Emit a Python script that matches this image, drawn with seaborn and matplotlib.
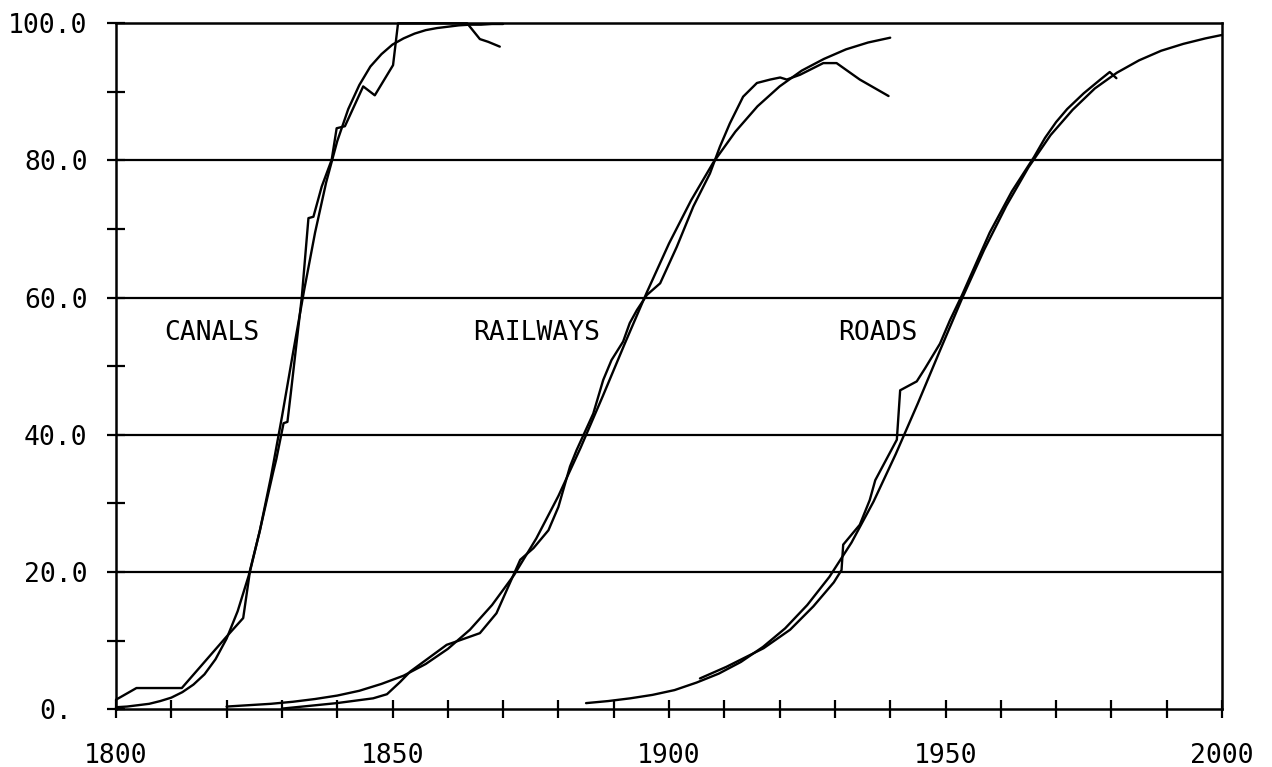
import matplotlib
matplotlib.use("Agg")
import matplotlib.pyplot as plt
from matplotlib.ticker import FixedLocator, MultipleLocator
import pandas as pd
import seaborn as sns

# --- Canals: logistic fit and observed share of maximum length (%) ---
canal_fit_year = [1800, 1802, 1804, 1806, 1808, 1810, 1812, 1814, 1816, 1818,
                  1820, 1822, 1824, 1826, 1828, 1830, 1832, 1834, 1836, 1838,
                  1840, 1842, 1844, 1846, 1848, 1850, 1852, 1854, 1856, 1858,
                  1860, 1862, 1864, 1866, 1868, 1870]
canal_fit_pct = [0.3, 0.4, 0.6, 0.8, 1.2, 1.7, 2.5, 3.6, 5.1, 7.3,
                 10.3, 14.3, 19.5, 26.0, 33.8, 42.6, 51.9, 61.0, 69.5, 76.8,
                 82.8, 87.5, 91.0, 93.7, 95.5, 96.9, 97.8, 98.5, 99.0, 99.3,
                 99.5, 99.7, 99.8, 99.8, 99.9, 99.9]
canal_obs_year = [1800, 1803.7, 1811.9, 1820.0, 1823.0, 1824.2, 1826.0, 1828.4,
                  1829.0, 1830.3, 1831.0, 1831.6, 1833.6, 1834.8, 1835.7, 1837.2,
                  1839.0, 1839.9, 1841.4, 1844.7, 1846.8, 1850.1, 1851.0, 1863.5,
                  1865.8, 1867.3, 1869.4]
canal_obs_pct = [1.4, 3.1, 3.1, 10.6, 13.3, 20.0, 26.0, 34.5,
                 36.5, 41.7, 41.9, 46.0, 60.1, 71.6, 71.8, 76.2,
                 80.1, 84.7, 85.0, 90.8, 89.5, 93.9, 100.0, 100.0,
                 97.7, 97.3, 96.6]

# --- Railways ---
rail_fit_year = [1820, 1824, 1828, 1832, 1836, 1840, 1844, 1848, 1852, 1856,
                 1860, 1864, 1868, 1872, 1876, 1880, 1884, 1888, 1892, 1896,
                 1900, 1904, 1908, 1912, 1916, 1920, 1924, 1928, 1932, 1936,
                 1940]
rail_fit_pct = [0.4, 0.6, 0.8, 1.1, 1.5, 2.0, 2.7, 3.7, 4.9, 6.6,
                8.8, 11.6, 15.2, 19.6, 24.9, 31.1, 38.1, 45.6, 53.3, 60.8,
                67.9, 74.2, 79.7, 84.2, 87.9, 90.8, 93.1, 94.8, 96.2, 97.2,
                97.9]
rail_obs_year = [1830, 1839.9, 1846.5, 1849.0, 1851.4, 1853.2, 1859.8, 1861.6,
                 1865.8, 1868.8, 1873.1, 1875.5, 1878.2, 1880.0, 1882.1, 1883.3,
                 1886.3, 1888.1, 1889.6, 1891.7, 1892.9, 1894.2, 1896.0, 1898.4,
                 1901.4, 1904.4, 1907.4, 1909.2, 1911.0, 1913.4, 1915.9, 1918.3,
                 1920.1, 1921.3, 1923.7, 1927.9, 1930.3, 1934.5, 1939.7]
rail_obs_pct = [0.1, 0.9, 1.6, 2.2, 4.0, 5.5, 9.4, 9.9,
                11.1, 14.0, 21.8, 23.5, 26.1, 29.5, 35.4, 37.8,
                43.1, 48.0, 50.9, 53.6, 56.3, 58.2, 60.4, 62.1,
                67.4, 73.3, 78.1, 82.0, 85.4, 89.3, 91.3, 91.8,
                92.1, 91.8, 92.5, 94.2, 94.2, 91.8, 89.4]

# --- Roads ---
road_fit_year = [1885, 1889, 1893, 1897, 1901, 1905, 1909, 1913, 1917, 1921,
                 1925, 1929, 1933, 1937, 1941, 1945, 1949, 1953, 1957, 1961,
                 1965, 1969, 1973, 1977, 1981, 1985, 1989, 1993, 1997, 2000]
road_fit_pct = [0.9, 1.2, 1.6, 2.1, 2.8, 3.9, 5.2, 6.9, 9.1, 11.8,
                15.2, 19.3, 24.3, 30.3, 37.2, 44.6, 52.3, 59.9, 67.0, 73.4,
                79.0, 83.7, 87.4, 90.5, 92.8, 94.6, 96.0, 97.0, 97.8, 98.3]
road_obs_year = [1905.6, 1910.4, 1917.1, 1921.9, 1926.1, 1929.8, 1931.2, 1931.5,
                 1934.5, 1936.3, 1937.3, 1941.2, 1941.8, 1944.8, 1946.3, 1949.0,
                 1950.8, 1953.0, 1958.0, 1962.0, 1966.0, 1968.0, 1970.0, 1972.0,
                 1975.0, 1978.0, 1979.7, 1980.9]
road_obs_pct = [4.5, 6.2, 8.9, 11.6, 15.0, 18.5, 20.3, 24.0,
                26.9, 30.5, 33.4, 39.3, 46.5, 47.8, 49.7, 53.3,
                56.7, 60.4, 69.5, 75.5, 80.5, 83.3, 85.6, 87.5,
                89.8, 91.8, 92.9, 92.0]

# Axis ticks and labels
x_major = [1800, 1850, 1900, 1950, 2000]
x_labels = ["1800", "1850", "1900", "1950", "2000"]
y_major = [0, 20, 40, 60, 80, 100]
y_labels = ["0. ", "20.0", "40.0", "60.0", "80.0", "100.0"]

# Curve labels (text, x, y)
curve_names = ["CANALS", "RAILWAYS", "ROADS"]
curve_label_x = [1817.4, 1876.1, 1937.8]
curve_label_y = [54.9, 54.9, 54.9]

sns.set_theme(style="white")
plt.rcParams["font.family"] = ["DejaVu Sans Mono", "DejaVu Sans"]

fig = plt.figure(figsize=(12.72, 7.67), dpi=100)
ax = fig.add_axes([116 / 1272, 1 - 709.3 / 767, (1222 - 116) / 1272, (709.3 - 23.3) / 767])

series = [
    (canal_fit_year, canal_fit_pct), (canal_obs_year, canal_obs_pct),
    (rail_fit_year, rail_fit_pct), (rail_obs_year, rail_obs_pct),
    (road_fit_year, road_fit_pct), (road_obs_year, road_obs_pct),
]
for yrs, pct in series:
    df = pd.DataFrame({"year": yrs, "pct": pct})
    sns.lineplot(data=df, x="year", y="pct", ax=ax, color="black",
                 linewidth=1.7, estimator=None, sort=False, clip_on=False)

for name, tx, ty in zip(curve_names, curve_label_x, curve_label_y):
    ax.text(tx, ty, name, ha="center", va="center", fontsize=19, color="black")

ax.set_xlim(1800, 2000)
ax.set_ylim(0, 100)

# horizontal rules at the labelled levels
for yv in y_major[1:-1]:
    ax.axhline(yv, color="black", linewidth=1.6, zorder=1)

ax.xaxis.set_major_locator(FixedLocator(x_major))
ax.set_xticklabels(x_labels)
ax.xaxis.set_minor_locator(MultipleLocator(10))
ax.yaxis.set_major_locator(FixedLocator(y_major))
ax.set_yticklabels(y_labels)
ax.yaxis.set_minor_locator(MultipleLocator(10))

ax.tick_params(axis="both", which="both", direction="inout", length=13,
               width=1.6, color="black", labelsize=19, labelcolor="black",
               bottom=True, left=True, top=False, right=False)
ax.tick_params(axis="x", which="major", pad=18)
ax.tick_params(axis="y", which="major", pad=14)

for side in ["left", "right", "top", "bottom"]:
    ax.spines[side].set_visible(True)
    ax.spines[side].set_color("black")
    ax.spines[side].set_linewidth(1.8)

ax.set_xlabel("")
ax.set_ylabel("")
ax.grid(False)

fig.savefig("out.png", dpi=100, facecolor="white")
